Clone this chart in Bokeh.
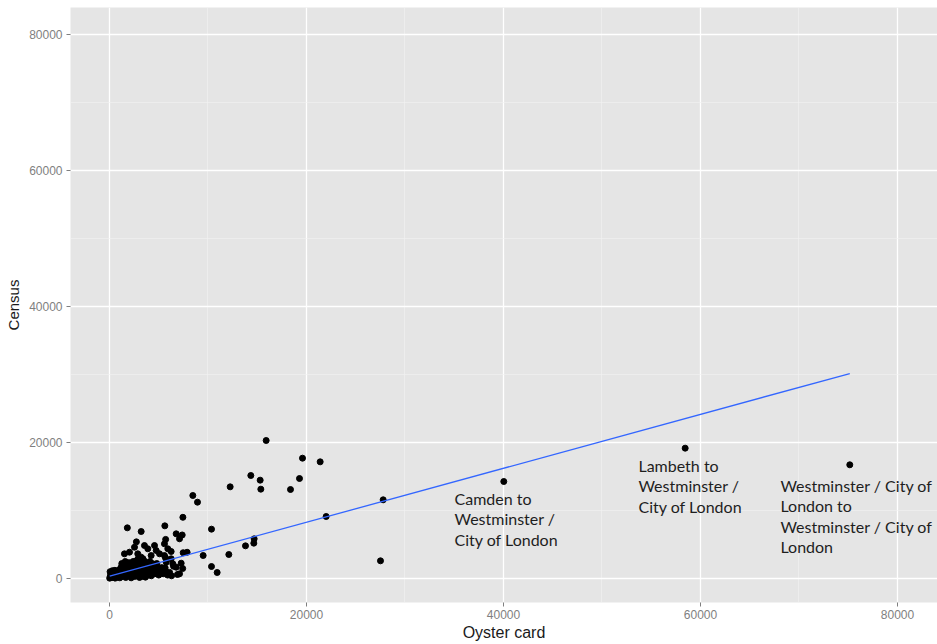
from bokeh.plotting import figure
from bokeh.models import Range1d, FixedTicker, BasicTickFormatter, ColumnDataSource
from bokeh.core.properties import value
from bokeh.embed import file_html
from bokeh.resources import INLINE

# ---- data ----
oyster = [
    # dense core
    20, 80, 150, 60, 250, 320, 400, 480, 550, 600, 680, 750, 820, 900, 980, 1000,
    200, 350, 500, 700, 850, 950, 300, 600,
    1050, 1100, 1150, 1200, 1250, 1350, 1400, 1450, 1500, 1600, 1650, 1700, 1750, 1800,
    1900, 1950, 2000, 2100, 2150, 2200, 2250, 2350, 2400, 2450,
    1100, 1300, 1300, 1500, 1550, 1700, 1850, 1850, 2050, 2050, 2300, 2300, 2450, 2500, 1200,
    2550, 2600, 2650, 2700, 2800, 2850, 2900, 2950, 3050, 3100, 3150, 3200, 3300, 3350,
    3450, 3500, 3550, 3650, 3700, 3800, 3850, 3950,
    2600, 2750, 2750, 3000, 3000, 3250, 3250, 3400, 3600, 3600, 3750, 3900, 2900, 3400,
    4050, 4150, 4250, 4350, 4450, 4600, 4700, 4850, 5000, 5150, 5300, 5450,
    4100, 4300, 4550, 4800, 4950, 5200,
    5700, 5900, 6100, 6300,
    # scattered points
    2540, 3550, 3890, 4570, 4740, 5580, 5920, 6770, 7110, 1520, 2030, 2870, 3220,
    4230, 5080, 5580, 6260, 5760, 6430, 6770, 7110, 4740, 3730, 3550,
    1810, 3216, 5618, 5700, 7450, 7380, 2730, 10355, 14686, 14652, 13806, 7480, 7880,
    9509, 12114, 6261, 10355, 10930, 6900, 7430, 6500, 7276, 5685, 5650,
    8460, 8934, 12250, 14347, 15296, 15364, 18375, 19289, 15906, 19594, 21387, 21996,
    27784, 27512, 40030, 58443, 75156,
]
census = [
    50, 350, 700, 1000, 150, 520, 900, 300, 1200, 60, 650, 1000, 250, 800, 450, 1300,
    450, 800, 100, 350, 600, 1100, 1150, 900,
    100, 600, 1100, 1700, 2200, 350, 900, 1400, 2000, 2500, 150, 700, 1200, 1800,
    2300, 450, 1000, 1500, 2000, 100, 700, 1250, 2500, 1800,
    1400, 800, 2000, 500, 1600, 2200, 900, 1400, 2300, 400, 1000, 1600, 2100, 600, 300,
    300, 900, 1500, 2100, 2700, 600, 1200, 1800, 150, 2400, 850, 1500, 2000, 400,
    1100, 2600, 1700, 200, 800, 1400, 2200, 500,
    2500, 1200, 400, 2100, 900, 1200, 300, 1800, 1200, 2400, 1900, 1000, 2900, 2900,
    1000, 1700, 400, 2200, 1200, 700, 1900, 1300, 500, 1000, 1600, 700,
    2500, 800, 1500, 2200, 900, 1400,
    1100, 500, 900, 400,
    4600, 4850, 4370, 4850, 4120, 5100, 4370, 6570, 5840, 3630, 3870, 3630, 3130,
    3380, 3630, 3380, 2900, 2400, 2160, 1660, 690, 1660, 1430, 1910,
    7450, 6912, 7745, 5750, 9000, 6400, 5390, 7255, 5833, 5196, 4804, 3790, 3860,
    3382, 3529, 3970, 1765, 882, 588, 1470, 1800, 2250, 3040, 1570,
    12206, 11225, 13480, 15147, 14461, 13137, 13088, 14706, 20294, 17694, 17157, 9118,
    11571, 2600, 14265, 19167, 16721,
]

# linear fit (geom_smooth, method = "lm")
fit_intercept = 340
fit_slope = 0.3966

tick_values = [0, 20000, 40000, 60000, 80000]
minor_values = [10000, 30000, 50000, 70000]

labels = [
    "Camden to\nWestminster /\nCity of London",
    "Lambeth to\nWestminster /\nCity of London",
    "Westminster / City of\nLondon to\nWestminster / City of\nLondon",
]
label_x = [35025, 53700, 68115]
label_y = [13235, 18088, 15147]

x_title = "Oyster card"
y_title = "Census"

# ---- figure ----
p = figure(
    width=937, height=644,
    x_range=Range1d(-3959, 84061), y_range=Range1d(-3529, 83971),
    output_backend="svg", toolbar_location=None,
    min_border_left=70, min_border_right=0, min_border_top=7, min_border_bottom=42,
)
p.background_fill_color = "#E5E5E5"
p.border_fill_color = "white"
p.outline_line_color = None

for ax in (p.xaxis[0], p.yaxis[0]):
    ax.ticker = FixedTicker(ticks=tick_values, minor_ticks=minor_values)
    ax.formatter = BasicTickFormatter(use_scientific=False)
    ax.axis_line_color = None
    ax.major_tick_line_color = "#7F7F7F"
    ax.major_tick_in = 0
    ax.major_tick_out = 4
    ax.minor_tick_line_color = None
    ax.major_label_text_color = "#7F7F7F"
    ax.major_label_text_font = "Liberation Sans"
    ax.major_label_text_font_size = "12px"
    ax.axis_label_text_font = "Liberation Sans"
    ax.axis_label_text_font_style = "normal"
    ax.axis_label_text_color = "#1A1A1A"

p.xaxis.axis_label = x_title
p.yaxis.axis_label = y_title
p.xaxis.axis_label_text_font_size = "16px"
p.yaxis.axis_label_text_font_size = "15px"
p.xaxis.major_label_standoff = 3
p.yaxis.major_label_standoff = 4
p.xaxis.axis_label_standoff = 2
p.yaxis.axis_label_standoff = 4

for g in (p.xgrid[0], p.ygrid[0]):
    g.grid_line_color = "white"
    g.grid_line_width = 1.3
    g.minor_grid_line_color = "#F2F2F2"
    g.minor_grid_line_width = 0.6

src = ColumnDataSource(dict(x=oyster, y=census))
p.scatter("x", "y", source=src, size=6, color="black")

x0, x1 = min(oyster), max(oyster)
p.line([x0, x1], [fit_intercept + fit_slope * x0, fit_intercept + fit_slope * x1],
       line_color="#3366FF", line_width=1.3)

lsrc = ColumnDataSource(dict(x=label_x, y=label_y, t=labels))
p.text("x", "y", text="t", source=lsrc, text_font=value("Lato"),
       text_font_size="16px", text_color="#1E1E1E", text_align="left",
       text_baseline="top", text_line_height=1.08)

open("out.html", "w").write(file_html(p, INLINE))
